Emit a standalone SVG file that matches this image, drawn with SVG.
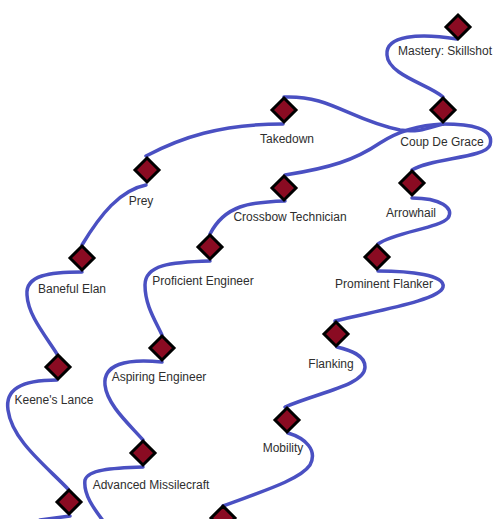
<svg xmlns="http://www.w3.org/2000/svg" width="500" height="519" viewBox="0 0 500 519">
<style>
.c{fill:none;stroke:#4a50c2;stroke-width:3.5;stroke-linecap:round}
.d{fill:#8a0b22;stroke:#000;stroke-width:3;stroke-linejoin:miter}
.t{font-family:"Liberation Sans",Arial,sans-serif;font-size:12px;fill:#2e2e2e;text-anchor:middle}
</style>
<defs>
<polygon id="dm" points="0,-12 12,0 0,12 -12,0"/>
</defs>
<rect width="500" height="519" fill="#fff"/>
<g id="connectors">
<path class="c" d="M457,39 C420,33 385,35 387,55 C388,75 430,85 443,97"/>
<path class="c" d="M284,97 C330,95 350,120 400,130 C420,133 430,127 443,124"/>
<path class="c" d="M285,175 C330,168 355,160 380,143 C400,130 420,125 443,124"/>
<path class="c" d="M443,124 C470,124 495,128 490,145 C486,158 430,158 412,170"/>
<path class="c" d="M146,156 C180,138 220,124 283,124"/>
<path class="c" d="M146,185 C120,190 100,215 82,245"/>
<path class="c" d="M82,272 C50,272 25,275 27,295 C28,315 45,335 57,354"/>
<path class="c" d="M57,380 C20,380 5,390 8,410 C12,440 45,465 68,489"/>
<path class="c" d="M70,516 L40,520"/>
<path class="c" d="M285,201 C250,202 225,205 210,234"/>
<path class="c" d="M210,261 C170,262 145,265 145,285 C145,305 155,320 162,335"/>
<path class="c" d="M162,362 C125,358 103,365 105,385 C107,405 130,425 143,440"/>
<path class="c" d="M143,467 C110,468 88,470 85,480 C83,495 95,510 104,522"/>
<path class="c" d="M288,433 C305,438 318,450 310,465 C300,480 260,492 223,506"/>
<path class="c" d="M285,407 C320,392 365,385 365,367 C365,355 350,350 337,347"/>
<path class="c" d="M335,321 C380,310 440,300 443,287 C446,275 410,271 378,271"/>
<path class="c" d="M412,198 C440,198 455,208 448,218 C440,228 395,232 378,244"/>
</g>
<g id="n-skillshot"><use href="#dm" class="d" x="458" y="27"/><text class="t" x="445" y="55">Mastery: Skillshot</text></g>
<g id="n-coup"><use href="#dm" class="d" x="443" y="110"/><text class="t" x="442" y="146">Coup De Grace</text></g>
<g id="n-takedown"><use href="#dm" class="d" x="284" y="110"/><text class="t" x="287" y="143">Takedown</text></g>
<g id="n-prey"><use href="#dm" class="d" x="147" y="170"/><text class="t" x="141" y="205">Prey</text></g>
<g id="n-crossbow"><use href="#dm" class="d" x="284" y="188"/><text class="t" x="290" y="221">Crossbow Technician</text></g>
<g id="n-arrowhail"><use href="#dm" class="d" x="412" y="183"/><text class="t" x="411" y="217">Arrowhail</text></g>
<g id="n-baneful"><use href="#dm" class="d" x="82" y="258"/><text class="t" x="72" y="293">Baneful Elan</text></g>
<g id="n-proficient"><use href="#dm" class="d" x="210" y="247"/><text class="t" x="203" y="285">Proficient Engineer</text></g>
<g id="n-prominent"><use href="#dm" class="d" x="377" y="257"/><text class="t" x="384" y="288">Prominent Flanker</text></g>
<g id="n-flanking"><use href="#dm" class="d" x="336" y="334"/><text class="t" x="331" y="368">Flanking</text></g>
<g id="n-aspiring"><use href="#dm" class="d" x="162" y="348"/><text class="t" x="159" y="381">Aspiring Engineer</text></g>
<g id="n-keene"><use href="#dm" class="d" x="58" y="367"/><text class="t" x="54" y="404">Keene's Lance</text></g>
<g id="n-mobility"><use href="#dm" class="d" x="287" y="420"/><text class="t" x="283" y="452">Mobility</text></g>
<g id="n-advanced"><use href="#dm" class="d" x="143" y="453"/><text class="t" x="151" y="489">Advanced Missilecraft</text></g>
<g id="n-bottom-left"><use href="#dm" class="d" x="69" y="502"/></g>
<g id="n-bottom-mid"><use href="#dm" class="d" x="223" y="518"/></g>
</svg>
